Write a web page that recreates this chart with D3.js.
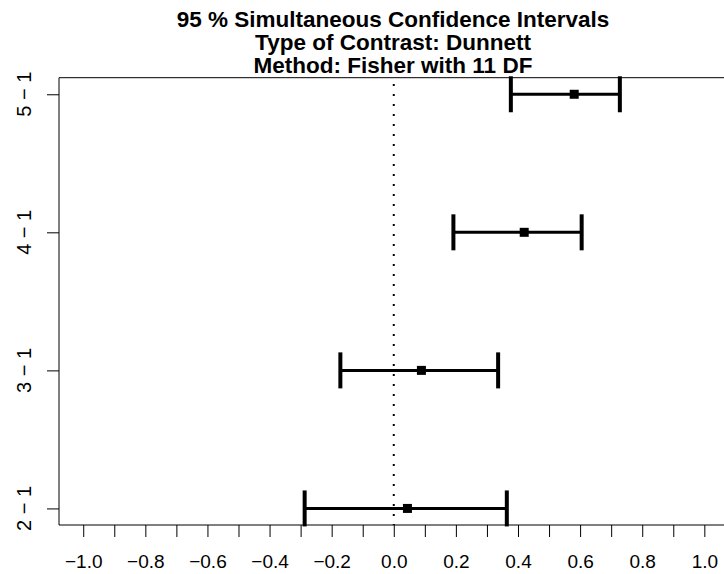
<!DOCTYPE html>
<html>
<head>
<meta charset="utf-8">
<title>95 % Simultaneous Confidence Intervals</title>
<script src="https://d3js.org/d3.v7.min.js"></script>
<style>
  body { margin: 0; background: #fff; }
  svg { display: block; font-family: "Liberation Sans", Arial, Helvetica, sans-serif; }
</style>
</head>
<body>
<svg id="chart" width="724" height="574"></svg>
<script>
  // contrasts and their intervals
  const contrasts = ["2 \u2212 1", "3 \u2212 1", "4 \u2212 1", "5 \u2212 1"];
  const estimate = [0.044, 0.089, 0.420, 0.581];
  const lower = [-0.287, -0.172, 0.192, 0.377];
  const upper = [0.364, 0.336, 0.605, 0.728];
  const xTicks = d3.range(-10, 11).map(i => i / 10);
  const titleLines = [
    "95 % Simultaneous Confidence Intervals",
    "Type of Contrast: Dunnett",
    "Method: Fisher with 11 DF"
  ];

  const data = contrasts.map((c, i) => ({
    name: c, pos: i + 1, est: estimate[i], lwr: lower[i], upr: upper[i]
  }));

  const plot = { left: 59, right: 727, top: 77.7, bottom: 525 };
  const svg = d3.select("#chart");

  const x = d3.scaleLinear()
    .domain([-1.078, 1.073])
    .range([plot.left, plot.right]);

  const y = d3.scaleLinear()
    .domain([0.88, 4.12])
    .range([plot.bottom, plot.top]);

  // title
  svg.append("g")
    .selectAll("text")
    .data(titleLines)
    .join("text")
    .attr("x", (plot.left + plot.right) / 2)
    .attr("y", (d, i) => 26.7 + i * 23.3)
    .attr("text-anchor", "middle")
    .style("font-size", "22.5px")
    .style("font-weight", "bold")
    .text(d => d);

  // x axis, ticks every 0.1, labels every 0.2
  const xAxis = svg.append("g")
    .attr("transform", `translate(0, ${plot.bottom})`)
    .call(d3.axisBottom(x)
      .tickValues(xTicks)
      .tickSize(12)
      .tickPadding(17.5)
      .tickFormat(d => Math.round(d * 10) % 2 === 0 ? d3.format(".1f")(d).replace("-", "\u2212") : ""));
  xAxis.select(".domain").remove();
  xAxis.selectAll("text").style("font-size", "19px").attr("fill", "#000");

  // y axis
  const yAxis = svg.append("g")
    .attr("transform", `translate(${plot.left}, 0)`)
    .call(d3.axisLeft(y)
      .tickValues(data.map(d => d.pos))
      .tickSize(12)
      .tickFormat(""));
  yAxis.select(".domain").remove();

  svg.append("g")
    .selectAll("text")
    .data(data)
    .join("text")
    .attr("transform", d => `translate(30.5, ${y(d.pos)}) rotate(-90)`)
    .attr("text-anchor", "middle")
    .style("font-size", "20px")
    .text(d => d.name);

  // box (right side falls off the picture)
  svg.append("path")
    .attr("d", `M${plot.right},${plot.top}H${plot.left}V${plot.bottom}H${plot.right}`)
    .attr("fill", "none")
    .attr("stroke", "#000")
    .attr("stroke-width", 1);

  // reference line at zero
  svg.append("line")
    .attr("x1", x(0)).attr("x2", x(0))
    .attr("y1", plot.top).attr("y2", plot.bottom)
    .attr("stroke", "#000")
    .attr("stroke-width", 2)
    .attr("stroke-dasharray", "2 8")
    .attr("stroke-dashoffset", 3.7);

  const ci = svg.append("g").selectAll("g").data(data).join("g");

  ci.append("line")
    .attr("x1", d => x(d.lwr)).attr("x2", d => x(d.upr))
    .attr("y1", d => y(d.pos)).attr("y2", d => y(d.pos))
    .attr("stroke", "#000")
    .attr("stroke-width", 3);

  ci.selectAll(".cap")
    .data(d => [{ v: d.lwr, pos: d.pos }, { v: d.upr, pos: d.pos }])
    .join("line")
    .attr("class", "cap")
    .attr("x1", d => x(d.v)).attr("x2", d => x(d.v))
    .attr("y1", d => y(d.pos) - 18).attr("y2", d => y(d.pos) + 18)
    .attr("stroke", "#000")
    .attr("stroke-width", 4);

  ci.append("rect")
    .attr("x", d => x(d.est) - 4.5)
    .attr("y", d => y(d.pos) - 4.5)
    .attr("width", 9)
    .attr("height", 9)
    .attr("fill", "#000");
</script>
</body>
</html>
